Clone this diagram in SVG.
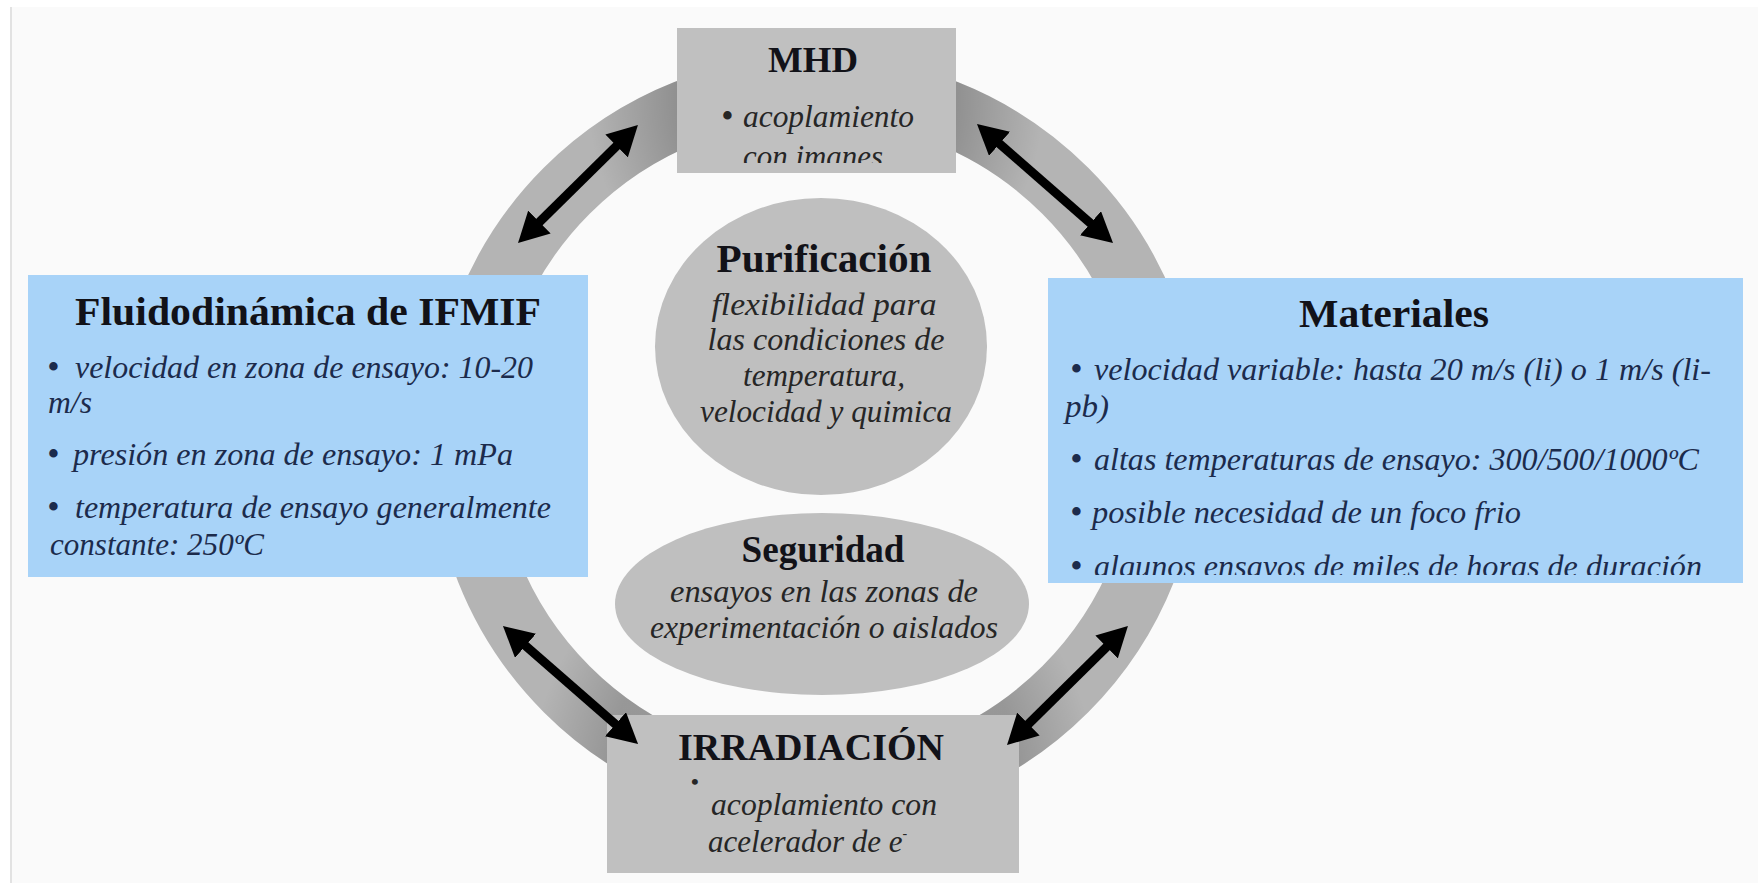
<svg xmlns="http://www.w3.org/2000/svg" width="1758" height="883" viewBox="0 0 1758 883">
<defs>
<style>
.t{font-family:"Liberation Serif","Times New Roman",serif;font-weight:bold;fill:#121218}
.b{font-family:"Liberation Serif","Times New Roman",serif;font-style:italic;font-size:31px}
.dot{font-family:"Liberation Serif","Times New Roman",serif;font-size:31px;font-weight:bold}
.nav{fill:#1c2b4c}
.dk{fill:#262626}
.gbox{fill:#c0c0c0}
.bbox{fill:#a8d3f8}
.ell{fill:#bfbfbf}
.ring{fill:none;stroke:#b4b4b4;stroke-width:65}
.conn{fill:none;stroke:#000;stroke-width:9;marker-start:url(#ah);marker-end:url(#ah)}
</style>
<marker id="ah" markerUnits="userSpaceOnUse" markerWidth="30" markerHeight="32" viewBox="0 0 30 32" refX="1" refY="16" orient="auto-start-reverse">
<path d="M0,0 L30,16 L0,32 z" fill="#000"/>
</marker>
<radialGradient id="shTop" gradientUnits="userSpaceOnUse" cx="816" cy="100" r="240">
<stop offset="0" stop-color="#000" stop-opacity="0.2"/>
<stop offset="0.58" stop-color="#000" stop-opacity="0.2"/>
<stop offset="0.95" stop-color="#000" stop-opacity="0"/>
</radialGradient>
<radialGradient id="shBot" gradientUnits="userSpaceOnUse" cx="813" cy="793" r="300">
<stop offset="0" stop-color="#000" stop-opacity="0.16"/>
<stop offset="0.7" stop-color="#000" stop-opacity="0.16"/>
<stop offset="0.95" stop-color="#000" stop-opacity="0"/>
</radialGradient>
<clipPath id="clipMHD"><rect x="677" y="28" width="279" height="135"/></clipPath>
<clipPath id="clipMat"><rect x="1048" y="278" width="695" height="297"/></clipPath>
</defs>

<g id="background">
<rect x="0" y="0" width="1758" height="883" fill="#ffffff"/>
<rect x="12" y="7" width="1746" height="876" fill="#fafafa"/>
<rect x="10" y="7" width="2" height="876" fill="#e2e2e2"/>
</g>

<g id="ring">
<circle class="ring" cx="816" cy="440" r="352.5"/>
<circle cx="816" cy="440" r="352.5" fill="none" stroke="url(#shTop)" stroke-width="65"/>
<circle cx="816" cy="440" r="352.5" fill="none" stroke="url(#shBot)" stroke-width="65"/>
</g>

<g id="purificacion">
<ellipse class="ell" cx="821" cy="346.5" rx="166" ry="148.5"/>
<text class="t" x="824" y="272" font-size="40" text-anchor="middle" textLength="215" lengthAdjust="spacingAndGlyphs">Purificación</text>
<text class="b dk" x="824" y="315" text-anchor="middle" textLength="225" lengthAdjust="spacingAndGlyphs">flexibilidad para</text>
<text class="b dk" x="826" y="350" text-anchor="middle" textLength="237" lengthAdjust="spacingAndGlyphs">las condiciones de</text>
<text class="b dk" x="824" y="386" text-anchor="middle" textLength="162" lengthAdjust="spacingAndGlyphs">temperatura,</text>
<text class="b dk" x="826" y="422" text-anchor="middle" textLength="252" lengthAdjust="spacingAndGlyphs">velocidad y quimica</text>
</g>

<g id="seguridad">
<ellipse class="ell" cx="822" cy="604" rx="207" ry="91"/>
<text class="t" x="823" y="562" font-size="38" text-anchor="middle" textLength="163" lengthAdjust="spacingAndGlyphs">Seguridad</text>
<text class="b dk" x="824" y="602" text-anchor="middle" textLength="308" lengthAdjust="spacingAndGlyphs">ensayos en las zonas de</text>
<text class="b dk" x="824" y="638" text-anchor="middle" textLength="348" lengthAdjust="spacingAndGlyphs">experimentación o aislados</text>
</g>

<g id="mhd">
<rect class="gbox" x="677" y="28" width="279" height="145"/>
<text class="t" x="813" y="72" font-size="36" text-anchor="middle" textLength="90" lengthAdjust="spacingAndGlyphs">MHD</text>
<text class="dot dk" x="722" y="126">•</text>
<text class="b dk" x="743" y="127" textLength="171" lengthAdjust="spacingAndGlyphs">acoplamiento</text>
<g clip-path="url(#clipMHD)">
<text class="b dk" x="743" y="167" textLength="140" lengthAdjust="spacingAndGlyphs">con imanes</text>
</g>
</g>

<g id="fluidodinamica">
<rect class="bbox" x="28" y="275" width="560" height="302"/>
<text class="t" x="308" y="325" font-size="40" text-anchor="middle" textLength="466" lengthAdjust="spacingAndGlyphs">Fluidodinámica de IFMIF</text>
<text class="dot nav" x="48" y="377">•</text>
<text class="b nav" x="75" y="378" textLength="458" lengthAdjust="spacingAndGlyphs">velocidad en zona de ensayo: 10-20</text>
<text class="b nav" x="48" y="413" textLength="44" lengthAdjust="spacingAndGlyphs">m/s</text>
<text class="dot nav" x="48" y="464">•</text>
<text class="b nav" x="73" y="465" textLength="440" lengthAdjust="spacingAndGlyphs">presión en zona de ensayo: 1 mPa</text>
<text class="dot nav" x="48" y="517">•</text>
<text class="b nav" x="75" y="518" textLength="476" lengthAdjust="spacingAndGlyphs">temperatura de ensayo generalmente</text>
<text class="b nav" x="50" y="555" textLength="214" lengthAdjust="spacingAndGlyphs">constante: 250ºC</text>
</g>

<g id="materiales">
<rect class="bbox" x="1048" y="278" width="695" height="305"/>
<text class="t" x="1394" y="327" font-size="40" text-anchor="middle" textLength="190" lengthAdjust="spacingAndGlyphs">Materiales</text>
<text class="dot nav" x="1071" y="379">•</text>
<text class="b nav" x="1094" y="380" textLength="617" lengthAdjust="spacingAndGlyphs">velocidad variable: hasta 20 m/s (li) o 1 m/s (li-</text>
<text class="b nav" x="1065" y="417" textLength="44" lengthAdjust="spacingAndGlyphs">pb)</text>
<text class="dot nav" x="1071" y="469">•</text>
<text class="b nav" x="1094" y="470" textLength="605" lengthAdjust="spacingAndGlyphs">altas temperaturas de ensayo: 300/500/1000ºC</text>
<text class="dot nav" x="1071" y="522">•</text>
<text class="b nav" x="1092" y="523" textLength="429" lengthAdjust="spacingAndGlyphs">posible necesidad de un foco frio</text>
<g clip-path="url(#clipMat)">
<text class="dot nav" x="1071" y="576">•</text>
<text class="b nav" x="1094" y="577" textLength="608" lengthAdjust="spacingAndGlyphs">algunos ensayos de miles de horas de duración</text>
</g>
</g>

<g id="irradiacion">
<rect class="gbox" x="607" y="715" width="412" height="158"/>
<text class="t" x="811" y="760" font-size="37" text-anchor="middle" textLength="266" lengthAdjust="spacingAndGlyphs">IRRADIACIÓN</text>
<text class="dk" x="691" y="789" font-family="Liberation Serif, serif" font-weight="bold" font-size="22">•</text>
<text class="b dk" x="824" y="815" text-anchor="middle" textLength="226" lengthAdjust="spacingAndGlyphs">acoplamiento con</text>
<text class="b dk" x="708" y="852">acelerador de e<tspan font-size="14" dy="-14">-</tspan></text>
</g>

<g id="connectors">
<line class="conn" x1="538.7" y1="222.7" x2="617.3" y2="145.3"/>
<line class="conn" x1="998.8" y1="143.1" x2="1091.2" y2="223.9"/>
<line class="conn" x1="524.8" y1="645.1" x2="616.2" y2="724.9"/>
<line class="conn" x1="1107.3" y1="646.3" x2="1027.7" y2="724.7"/>
</g>
</svg>
